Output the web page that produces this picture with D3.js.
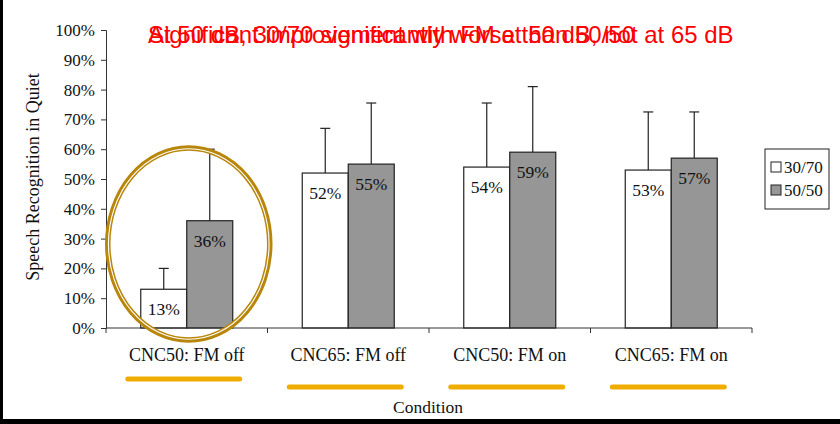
<!DOCTYPE html>
<html><head><meta charset="utf-8">
<script src="https://cdn.jsdelivr.net/npm/d3@7"></script>
<style>
html,body{margin:0;padding:0;background:#fff;}
svg{display:block;}
</style></head>
<body>
<script>
const categories = ["CNC50: FM off", "CNC65: FM off", "CNC50: FM on", "CNC65: FM on"];
const seriesNames = ["30/70", "50/50"];
const values3070 = [0.13, 0.52, 0.54, 0.53];
const values5050 = [0.36, 0.55, 0.59, 0.57];
const err3070 = [0.07, 0.15, 0.215, 0.195];
const err5050 = [0.24, 0.205, 0.22, 0.155];
const yTicks = [0, 0.1, 0.2, 0.3, 0.4, 0.5, 0.6, 0.7, 0.8, 0.9, 1.0];
const titles = ["At 50 dB, 30/70 significantly worse than 50/50", "Significant improvement with FM at 50 dB, not at 65 dB"];

const W = 840, H = 424;
const svg = d3.select("body").append("svg").attr("width", W).attr("height", H);
svg.append("rect").attr("width", W).attr("height", H).attr("fill", "#fff");

const serif = "'Liberation Serif','Times New Roman',serif";
const x = d3.scaleBand().domain(categories).range([106, 752]).padding(0);
const xs = d3.scaleBand().domain(seriesNames).range([x.bandwidth()/2 - 46, x.bandwidth()/2 + 46]).padding(0);
const y = d3.scaleLinear().domain([0, 1]).range([328, 30]);
const fills = {"30/70": "#ffffff", "50/50": "#969696"};

const data = [];
categories.forEach((c, i) => {
  data.push({cat: c, s: "30/70", v: values3070[i], e: err3070[i]});
  data.push({cat: c, s: "50/50", v: values5050[i], e: err5050[i]});
});

// error bars
const eb = svg.append("g");
data.forEach(d => {
  const cx = x(d.cat) + xs(d.s) + xs.bandwidth()/2;
  eb.append("line").attr("x1", cx).attr("x2", cx).attr("y1", y(d.v)).attr("y2", y(d.v + d.e)).attr("stroke", "#222").attr("stroke-width", 1.2);
  eb.append("line").attr("x1", cx - 5).attr("x2", cx + 5).attr("y1", y(d.v + d.e)).attr("y2", y(d.v + d.e)).attr("stroke", "#222").attr("stroke-width", 1.2);
});

// bars
svg.append("g").selectAll("rect").data(data).join("rect")
  .attr("x", d => x(d.cat) + xs(d.s))
  .attr("y", d => y(d.v))
  .attr("width", xs.bandwidth())
  .attr("height", d => y(0) - y(d.v))
  .attr("fill", d => fills[d.s])
  .attr("stroke", "#222").attr("stroke-width", 1.2);

// bar labels
svg.append("g").selectAll("text").data(data).join("text")
  .attr("x", d => x(d.cat) + xs(d.s) + xs.bandwidth()/2)
  .attr("y", d => y(d.v) + 26)
  .attr("text-anchor", "middle")
  .attr("font-family", serif).attr("font-size", 17.5)
  .attr("fill", "#111")
  .text(d => Math.round(d.v * 100) + "%");

// y axis
const yAxis = svg.append("g").attr("transform", "translate(106,0)")
  .call(d3.axisLeft(y).tickValues(yTicks).tickFormat(d3.format(".0%")).tickSize(5).tickPadding(6));
yAxis.select(".domain").attr("stroke", "#333");
yAxis.selectAll(".tick line").attr("stroke", "#333");
yAxis.selectAll("text").attr("font-family", serif).attr("font-size", 17).attr("fill", "#111");

// x axis
const xAxis = svg.append("g").attr("transform", "translate(0,328)");
xAxis.append("line").attr("x1", 106).attr("x2", 752).attr("y1", 0).attr("y2", 0).attr("stroke", "#333");
const bounds = categories.map(c => x(c)).concat([x(categories[categories.length-1]) + x.bandwidth()]);
xAxis.selectAll("line.tk").data(bounds).join("line").attr("class", "tk")
  .attr("x1", d => d).attr("x2", d => d).attr("y1", 0).attr("y2", 5).attr("stroke", "#333");
xAxis.selectAll("text").data(categories).join("text")
  .attr("x", d => x(d) + x.bandwidth()/2)
  .attr("y", 33)
  .attr("text-anchor", "middle")
  .attr("font-family", serif).attr("font-size", 18).attr("fill", "#111")
  .text(d => d);

// axis titles
svg.append("text").attr("x", 428).attr("y", 413).attr("text-anchor", "middle")
  .attr("font-family", serif).attr("font-size", 17.5).attr("fill", "#111").text("Condition");
svg.append("text").attr("transform", "translate(39,177) rotate(-90)").attr("text-anchor", "middle")
  .attr("font-family", serif).attr("font-size", 18).attr("fill", "#111").text("Speech Recognition in Quiet");

// legend
const lg = svg.append("g");
lg.append("rect").attr("x", 765).attr("y", 149).attr("width", 64).attr("height", 60).attr("fill", "#fff").attr("stroke", "#222").attr("stroke-width", 1);
seriesNames.forEach((s, i) => {
  const yy = 167 + i * 23;
  lg.append("rect").attr("x", 771).attr("y", yy - 5).attr("width", 10).attr("height", 10).attr("fill", fills[s]).attr("stroke", "#222").attr("stroke-width", 1);
  lg.append("text").attr("x", 784).attr("y", yy + 6).attr("font-family", serif).attr("font-size", 17).attr("fill", "#111").text(s);
});

// annotations: ellipse
const ex = x(categories[0]) + x.bandwidth()/2 + 2;
svg.append("ellipse").attr("cx", ex).attr("cy", 244).attr("rx", 81).attr("ry", 96)
  .attr("fill", "none").attr("stroke", "#b8860b").attr("stroke-width", 5.5);
svg.append("ellipse").attr("cx", ex).attr("cy", 244).attr("rx", 80.3).attr("ry", 95.3)
  .attr("fill", "none").attr("stroke", "#fff").attr("stroke-width", 1.1);

// underlines
const ulY = [379, 387, 387, 387];
categories.forEach((c, i) => {
  const cx = x(c) + x.bandwidth()/2 - 3;
  svg.append("line").attr("x1", cx - 56).attr("x2", cx + 56).attr("y1", ulY[i]).attr("y2", ulY[i])
    .attr("stroke", "#f0ad00").attr("stroke-width", 5).attr("stroke-linecap", "round");
});

// overlapping titles
titles.forEach(t => {
  svg.append("text").attr("x", 148).attr("y", 43)
    .attr("font-family", "'Liberation Sans',Arial,sans-serif").attr("font-size", 24).attr("fill", "#ff0000").text(t);
});

// black borders
svg.append("rect").attr("x", 0).attr("y", 0).attr("width", 3).attr("height", H).attr("fill", "#000");
svg.append("rect").attr("x", 0).attr("y", 419).attr("width", W).attr("height", 5).attr("fill", "#000");
</script>
</body></html>
